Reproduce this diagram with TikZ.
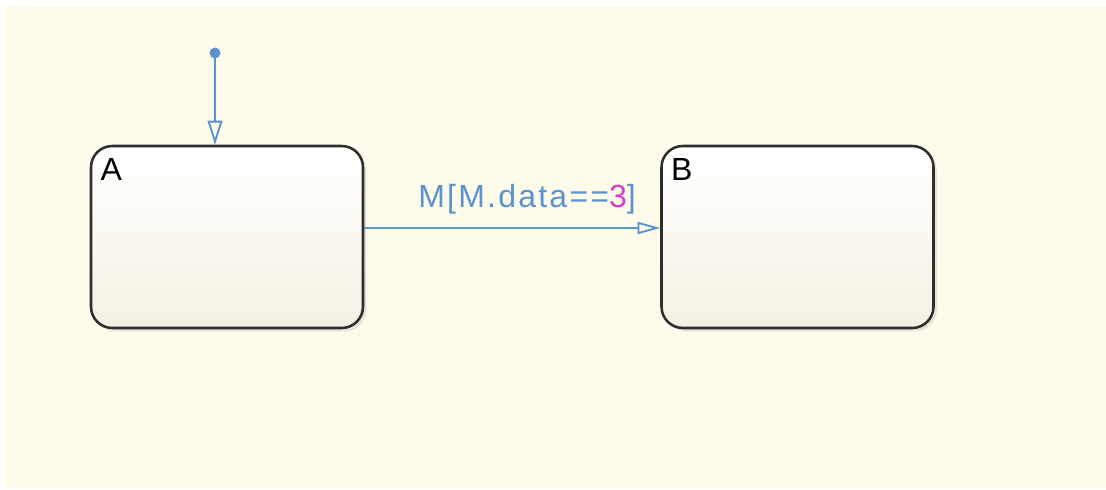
\documentclass[tikz,border=0pt]{standalone}
\usepackage{fontspec}
\setmainfont{Liberation Sans}
\usepackage{tikz}
\usetikzlibrary{arrows.meta,positioning,shadows}
\usepackage{xcolor}
\definecolor{chartbg}{HTML}{FEFBEB}
\definecolor{stateedge}{HTML}{2E2E2E}
\definecolor{statelow}{HTML}{F4F1E3}
\definecolor{trans}{HTML}{5B92D0}
\definecolor{numcol}{HTML}{D63FC8}

\begin{document}
\begin{tikzpicture}[
  x=0.75pt, y=-0.75pt,
  every node/.style={font=\fontsize{24}{28}\selectfont},
  state/.style={draw=stateedge, line width=1.9pt, rounded corners=16pt,
                top color=white, bottom color=statelow, minimum width=204pt,
                minimum height=136.5pt, inner sep=0pt,
                drop shadow={shadow xshift=2.5pt, shadow yshift=-2.5pt, opacity=0.18}},
  statename/.style={anchor=north west, inner sep=0pt, text=black},
  arr/.style={-{Triangle[open, length=18pt, width=11pt]}, line width=1.4pt, draw=trans},
  arrh/.style={-{Triangle[open, length=17pt, width=9pt]}, line width=1.4pt, draw=trans}
]
  \useasboundingbox (0,0) rectangle (1106,489);
  \fill[white] (0,0) rectangle (1106,489);
  \fill[chartbg] (5,6) rectangle (1106,489);

  \node[state] (stA) at (227,237) {};
  \node[state] (stB) at (797.5,237) {};

  \node[statename] (nameA) at ([xshift=8pt, yshift=-10pt]stA.north west) {A};
  \node[statename] (nameB) at ([xshift=8pt, yshift=-10pt]stB.north west) {B};

  % default transition
  \fill[trans] (215,53) circle (5.5) coordinate (init);
  \draw[arr] (init) -- (stA.north -| init);

  % transition A -> B
  \coordinate (fromA) at (stA.east |- 0,228);
  \draw[arrh] (fromA) -- (stB.west |- fromA)
    node[pos=0.55, above=10pt, text=trans, inner sep=0pt] (guard)
    {\addfontfeature{LetterSpace=7}M[M.data==\textcolor{numcol}{3}]};

\end{tikzpicture}
\end{document}
